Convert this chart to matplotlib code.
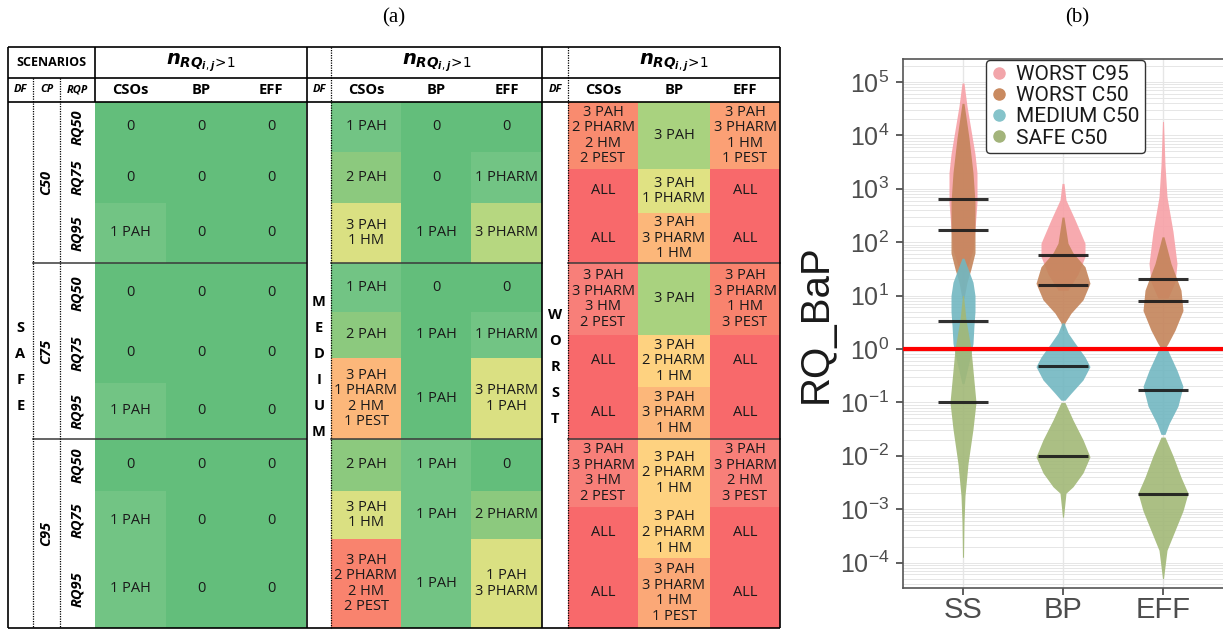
import numpy as np
import matplotlib
matplotlib.use('Agg')
import matplotlib.pyplot as plt
from matplotlib.patches import Rectangle
from matplotlib.lines import Line2D
from matplotlib.ticker import FixedLocator, LogLocator, NullFormatter

plt.rcParams['mathtext.fontset'] = 'custom'
plt.rcParams['mathtext.it'] = 'DejaVu Sans:italic:bold'

# ---------------- (a) table data ----------------
cols = ['CSOs', 'BP', 'EFF']
cp_labels = ['C50', 'C75', 'C95']
rqp_labels = ['RQ50', 'RQ75', 'RQ95']

# excel colour scale as seen in the table
G = '#63be7b'
LG = '#72c484'
YG = '#8cc97e'
GY = '#a9d27f'
YG2 = '#b6d780'
Y = '#dae082'
Y2 = '#e0e283'
YO = '#fed280'
O = '#fcb77a'
O2 = '#fba075'
O3 = '#fba877'
S = '#f98b6f'
S2 = '#f9836e'
P = '#f87f79'
R = '#f8696b'

safe_text = [['0', '0', '0'], ['0', '0', '0'], ['1 PAH', '0', '0'],
             ['0', '0', '0'], ['0', '0', '0'], ['1 PAH', '0', '0'],
             ['0', '0', '0'], ['1 PAH', '0', '0'], ['1 PAH', '0', '0']]
safe_fill = [[G, G, G], [G, G, G], [LG, G, G],
             [G, G, G], [G, G, G], [LG, G, G],
             [G, G, G], [LG, G, G], [LG, G, G]]

medium_text = [['1 PAH', '0', '0'],
               ['2 PAH', '0', '1 PHARM'],
               ['3 PAH\n1 HM', '1 PAH', '3 PHARM'],
               ['1 PAH', '0', '0'],
               ['2 PAH', '1 PAH', '1 PHARM'],
               ['3 PAH\n1 PHARM\n2 HM\n1 PEST', '1 PAH', '3 PHARM\n1 PAH'],
               ['2 PAH', '1 PAH', '0'],
               ['3 PAH\n1 HM', '1 PAH', '2 PHARM'],
               ['3 PAH\n2 PHARM\n2 HM\n2 PEST', '1 PAH', '1 PAH\n3 PHARM']]
medium_fill = [[LG, G, G], [YG, G, LG], [Y, G, YG2],
               [LG, G, G], [YG, G, LG], [O, G, Y],
               [YG, LG, G], [Y, LG, YG], [S2, LG, Y]]

worst_text = [['3 PAH\n2 PHARM\n2 HM\n2 PEST', '3 PAH', '3 PAH\n3 PHARM\n1 HM\n1 PEST'],
              ['ALL', '3 PAH\n1 PHARM', 'ALL'],
              ['ALL', '3 PAH\n3 PHARM\n1 HM', 'ALL'],
              ['3 PAH\n3 PHARM\n3 HM\n2 PEST', '3 PAH', '3 PAH\n3 PHARM\n1 HM\n3 PEST'],
              ['ALL', '3 PAH\n2 PHARM\n1 HM', 'ALL'],
              ['ALL', '3 PAH\n3 PHARM\n1 HM', 'ALL'],
              ['3 PAH\n3 PHARM\n3 HM\n2 PEST', '3 PAH\n2 PHARM\n1 HM', '3 PAH\n3 PHARM\n2 HM\n3 PEST'],
              ['ALL', '3 PAH\n2 PHARM\n1 HM', 'ALL'],
              ['ALL', '3 PAH\n3 PHARM\n1 HM\n1 PEST', 'ALL']]
worst_fill = [[S, GY, O2], [R, Y2, R], [R, O, R],
              [P, GY, S2], [R, YO, R], [R, O, R],
              [P, YO, P], [R, YO, R], [R, O3, R]]

# ---------------- (b) swarm data ----------------
categories = ['SS', 'BP', 'EFF']
groups = ['WORST C95', 'WORST C50', 'MEDIUM C50', 'SAFE C50']
# log10(RQ) levels and half widths of the swarm outline, per category SS, BP, EFF
worst95_exp = [[4.98, 4.55, 4.1, 3.65, 3.3, 2.75, 2.25, 1.85, 1.45],
               [3.1, 2.79, 2.42, 1.98, 1.73, 1.4, 1.1],
               [4.26, 3.45, 2.85, 2.2, 1.6, 1.25, 0.95]]
worst95_hw = [[0.01, 0.04, 0.08, 0.12, 0.14, 0.14, 0.12, 0.10, 0.03],
              [0.01, 0.03, 0.12, 0.22, 0.22, 0.15, 0.05],
              [0.005, 0.02, 0.04, 0.10, 0.14, 0.12, 0.05]]
worst50_exp = [[4.6, 3.95, 3.3, 2.75, 2.2, 1.8, 1.5, 1.25, 0.95],
               [2.47, 1.98, 1.8, 1.54, 1.23, 0.92, 0.67, 0.49, 0.35],
               [2.1, 1.6, 1.1, 0.72, 0.35, 0.1, -0.02]]
worst50_hw = [[0.01, 0.06, 0.10, 0.12, 0.12, 0.12, 0.08, 0.04, 0.01],
              [0.01, 0.05, 0.10, 0.22, 0.27, 0.20, 0.08, 0.02, 0.005],
              [0.01, 0.08, 0.18, 0.20, 0.12, 0.05, 0.01]]
medium50_exp = [[1.7, 1.5, 1.25, 1.0, 0.7, 0.45, 0.1, -0.25, -0.65],
                [0.49, 0.3, 0.11, -0.15, -0.33, -0.58, -0.83, -0.96],
                [0.05, -0.4, -0.7, -1.07, -1.4, -1.6]]
medium50_hw = [[0.01, 0.05, 0.10, 0.12, 0.12, 0.11, 0.10, 0.06, 0.01],
               [0.01, 0.05, 0.12, 0.22, 0.27, 0.20, 0.08, 0.02],
               [0.03, 0.14, 0.20, 0.15, 0.06, 0.02]]
safe50_exp = [[1.0, 0.55, 0.0, -0.6, -1.0, -1.5, -2.15, -2.75, -3.25, -3.9],
              [-1.0, -1.33, -1.7, -2.02, -2.32, -2.58, -2.7, -3.15],
              [-1.65, -2.0, -2.4, -2.7, -3.03, -3.4, -3.77, -4.3]]
safe50_hw = [[0.005, 0.03, 0.08, 0.11, 0.13, 0.10, 0.05, 0.02, 0.01, 0.005],
             [0.02, 0.10, 0.20, 0.27, 0.20, 0.10, 0.03, 0.005],
             [0.02, 0.10, 0.18, 0.25, 0.20, 0.12, 0.04, 0.005]]
worst95_med = [650, 58, 20]
worst50_med = [170, 15.5, 8]
medium50_med = [3.3, 0.47, 0.17]
safe50_med = [0.1, 0.01, 0.0019]
threshold = 1
y_ticks = [1e-4, 1e-3, 1e-2, 1e-1, 1e0, 1e1, 1e2, 1e3, 1e4, 1e5]

fill_cols = ['#f7a1a7', '#c4845a', '#72b7c1', '#a2b877']
legend_cols = ['#f2a5aa', '#c98a60', '#85c3ca', '#a3b47b']

# ---------------- figure ----------------
fig = plt.figure(figsize=(12.23, 6.3), dpi=100)
tab = fig.add_axes([0, 0, 1, 1])
tab.set_xlim(0, 1223)
tab.set_ylim(630, 0)
tab.axis('off')

TF = 'Open Sans'
txt_col = '#1a1a1a'
n_label = r'$n_{RQ_{i,j}\!\mathit{>}\!\mathit{1}}$'

safe_x = [8, 33, 60, 95, 166, 236, 306]
medium_x = [307, 331, 401, 471, 542]
worst_x = [542, 568, 638, 710, 780]
safe_y = [102, 152, 203, 263, 323, 383, 439, 491, 550, 628]
medium_y = [102, 152, 203, 263, 312, 358, 439, 491, 539, 628]
worst_y = [102, 169, 213, 263, 335, 387, 439, 507, 558, 628]


def draw_block(xe, ye, texts, fills, word, sec_x0):
    bx = xe[-4:]
    for i in range(9):
        for j in range(3):
            tab.add_patch(Rectangle((bx[j], ye[i]), bx[j + 1] - bx[j], ye[i + 1] - ye[i],
                                    fc=fills[i][j], ec='none', zorder=1))
            tab.text((bx[j] + bx[j + 1]) / 2, (ye[i] + ye[i + 1]) / 2, texts[i][j],
                     ha='center', va='center', fontsize=10.5, family=TF,
                     color=txt_col, linespacing=1.05, zorder=3)
    for j, c in enumerate(cols):
        tab.text((bx[j] + bx[j + 1]) / 2, 90, c, ha='center', va='center',
                 fontsize=10.5, family=TF, weight='bold', color='black')
    tab.text((bx[0] + bx[-1]) / 2, 63, n_label, ha='center', va='center', fontsize=14)
    tab.text((xe[0] + xe[1]) / 2, 90, 'DF', ha='center', va='center', fontsize=8,
             family=TF, weight='bold', style='italic')
    for k in (3, 6):
        tab.plot([sec_x0, bx[-1]], [ye[k], ye[k]], color='#3a3a3a', lw=1.1, zorder=4)
    cx = (xe[0] + xe[1]) / 2
    for k, ch in enumerate(word):
        tab.text(cx, 367 + (k - (len(word) - 1) / 2) * 26, ch, ha='center', va='center',
                 fontsize=10.5, family=TF, weight='bold', color='black')


draw_block(safe_x, safe_y, safe_text, safe_fill, 'SAFE', safe_x[1])
draw_block(medium_x, medium_y, medium_text, medium_fill, 'MEDIUM', medium_x[1])
draw_block(worst_x, worst_y, worst_text, worst_fill, 'WORST', worst_x[1])

# safe block row headers
tab.text((safe_x[0] + safe_x[3]) / 2, 63, 'SCENARIOS', ha='center', va='center',
         fontsize=9, family=TF, weight='bold')
tab.text((safe_x[1] + safe_x[2]) / 2, 90, 'CP', ha='center', va='center', fontsize=8,
         family=TF, weight='bold', style='italic')
tab.text((safe_x[2] + safe_x[3]) / 2, 90, 'RQP', ha='center', va='center', fontsize=8,
         family=TF, weight='bold', style='italic')
for s in range(3):
    tab.text((safe_x[1] + safe_x[2]) / 2, (safe_y[3 * s] + safe_y[3 * s + 3]) / 2,
             cp_labels[s], rotation=90, ha='center', va='center', fontsize=10.5,
             family=TF, weight='bold', style='italic')
    for r in range(3):
        i = 3 * s + r
        tab.text((safe_x[2] + safe_x[3]) / 2, (safe_y[i] + safe_y[i + 1]) / 2,
                 rqp_labels[r], rotation=90, ha='center', va='center', fontsize=10.5,
                 family=TF, weight='bold', style='italic')

# table frame
lk = dict(color='black', lw=1.2, zorder=5, solid_capstyle='butt')
for yy in (47, 78, 102, 628):
    tab.plot([8, 780], [yy, yy], **lk)
for xx in (8, 307, 542, 780):
    tab.plot([xx, xx], [47, 628], **lk)
tab.plot([95, 95], [47, 102], **lk)
dk = dict(color='black', lw=0.9, ls=(0, (1, 1)), zorder=5)
for xx in (33, 60):
    tab.plot([xx, xx], [78, 628], **dk)
for xx in (331, 568):
    tab.plot([xx, xx], [47, 628], **dk)

fig.text(394 / 1223, 1 - 18 / 630, '(a)', ha='center', va='center',
         family='Liberation Serif', fontsize=15)
fig.text(1077 / 1223, 1 - 18 / 630, '(b)', ha='center', va='center',
         family='Liberation Serif', fontsize=15)

# ---------------- (b) swarm panel ----------------
axb = fig.add_axes([903 / 1223, 42 / 630, 320 / 1223, 529 / 630])
axb.set_yscale('log')
axb.set_xlim(0.4, 3.6)
axb.set_ylim(10 ** -4.476, 10 ** 5.43)
pos = np.arange(1, len(categories) + 1)

exps = [worst95_exp, worst50_exp, medium50_exp, safe50_exp]
hws = [worst95_hw, worst50_hw, medium50_hw, safe50_hw]
meds = [worst95_med, worst50_med, medium50_med, safe50_med]
for g in range(len(groups)):
    for c in range(len(categories)):
        yv = 10 ** np.array(exps[g][c])
        hw = np.array(hws[g][c])
        axb.fill_betweenx(yv, pos[c] - hw, pos[c] + hw, color=fill_cols[g],
                          alpha=0.9, lw=0, zorder=2 + g)
for g in range(len(groups)):
    for c in range(len(categories)):
        axb.plot([pos[c] - 0.25, pos[c] + 0.25], [meds[g][c], meds[g][c]],
                 color='#1a1a1a', lw=2.2, alpha=0.9, zorder=7, solid_capstyle='butt')
axb.axhline(threshold, color='#ff0000', lw=3, zorder=8)

axb.yaxis.set_major_locator(FixedLocator(y_ticks))
axb.yaxis.set_minor_locator(LogLocator(base=10, subs=np.arange(2, 10), numticks=15))
axb.yaxis.set_minor_formatter(NullFormatter())
axb.grid(True, which='both', axis='y', color='#e6e6e6', lw=0.7, zorder=0)
axb.grid(True, which='major', axis='x', color='#e6e6e6', lw=1.0, zorder=0)
axb.set_axisbelow(True)
axb.set_xticks(pos)
axb.set_xticklabels(categories)
axb.tick_params(axis='y', which='major', labelsize=18, labelcolor='#4d4d4d',
                color='#333333', length=5, width=1.1, pad=5)
axb.tick_params(axis='y', which='minor', length=0)
axb.tick_params(axis='x', labelsize=21, labelcolor='#4d4d4d', color='#333333',
                length=5, width=1.1, pad=1)
for lab in axb.get_xticklabels() + axb.get_yticklabels():
    lab.set_family('Liberation Sans')
for sp in ('left', 'top', 'bottom'):
    axb.spines[sp].set_color('#555555')
    axb.spines[sp].set_linewidth(1.2)
axb.spines['right'].set_visible(False)
axb.set_ylabel('RQ_BaP', fontsize=29, color='#1a1a1a', family='Liberation Sans')
axb.yaxis.set_label_coords(-0.2125, 0.5)

handles = [Line2D([], [], marker='o', ls='', color=legend_cols[g], markersize=8)
           for g in range(len(groups))]
leg = axb.legend(handles, groups, loc='upper left', bbox_to_anchor=(0.259, 0.998),
                 borderaxespad=0, frameon=True, fancybox=True, framealpha=1,
                 edgecolor='#333333', prop={'family': 'Roboto', 'size': 15},
                 handlelength=0.8, handletextpad=0.4, labelspacing=0.1,
                 borderpad=0.25)
leg.get_frame().set_linewidth(1.0)
leg.set_zorder(10)
for t in leg.get_texts():
    t.set_color('#1a1a1a')

fig.savefig('out.png', dpi=100)
